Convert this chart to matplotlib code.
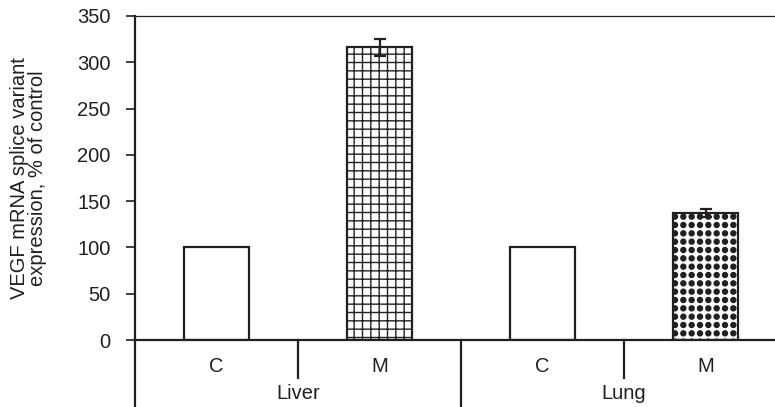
import numpy as np
import matplotlib
matplotlib.use("Agg")
import matplotlib.pyplot as plt
import matplotlib.hatch as mhatch
from matplotlib.path import Path

# data
groups = ["Liver", "Lung"]
conditions = ["C", "M"]
values = [100, 316, 100, 137]
errors = [0, 9, 0, 4]
hatches = ["", "++", "", ".."]


# square grid of filled dots (replaces the staggered '.' hatch)
class GridDots(mhatch.Shapes):
    filled = True
    size = 0.3
    shape_vertices = Path.unit_circle().vertices
    shape_codes = Path.unit_circle().codes

    def __init__(self, hatch, density):
        self.num_rows = hatch.count('.') * density
        self.num_shapes = (self.num_rows + 1) ** 2 if self.num_rows else 0
        self.num_vertices = self.num_shapes * len(self.shape_vertices)

    def set_vertices_and_codes(self, vertices, codes):
        offset = 1.0 / self.num_rows
        sv = self.shape_vertices * offset * self.size
        vparts, cparts = [], []
        for row in range(self.num_rows + 1):
            for col in range(self.num_rows + 1):
                vparts.append(sv + [col * offset, row * offset])
                cparts.append(self.shape_codes)
        np.concatenate(vparts, out=vertices)
        np.concatenate(cparts, out=codes)


mhatch._hatch_types = [GridDots if t is mhatch.SmallFilledCircles else t
                       for t in mhatch._hatch_types]

plt.rcParams['font.family'] = ['Liberation Sans', 'DejaVu Sans']
plt.rcParams['hatch.linewidth'] = 1.0
ink = '#231f20'
plt.rcParams['hatch.color'] = ink
fs = 14.5

fig = plt.figure(figsize=(7.75, 4.07), dpi=100)
ax = fig.add_axes([0.1742, 0.1646, 0.8413, 0.7961])

x = np.arange(len(values))
ax.bar(x, values, width=0.4, color='white', edgecolor=ink, linewidth=1.6,
       hatch=hatches, zorder=2)
for xi, v, e in zip(x, values, errors):
    if e:
        ax.errorbar(xi, v, yerr=e, fmt='none', ecolor=ink, elinewidth=1.6,
                    capsize=4, capthick=1.6, zorder=3)

ax.set_xlim(-0.5, len(values) - 0.5)
ax.set_ylim(0, 350)
ax.set_yticks(range(0, 351, 50))
ax.tick_params(axis='y', direction='out', length=6.5, width=1.2, labelsize=fs,
               colors=ink, pad=11)
ax.set_xticks([])

ax.spines['right'].set_visible(False)
ax.spines['left'].set_linewidth(1.6)
ax.spines['bottom'].set_linewidth(1.6)
ax.spines['top'].set_linewidth(0.9)
for s in ax.spines.values():
    s.set_color(ink)

ax.set_ylabel("VEGF mRNA splice variant\nexpression, % of control",
              fontsize=fs, color=ink, linespacing=0.95)
ax.yaxis.set_label_coords(-0.135, 0.5)

# two-level category axis below the bars
trans = ax.get_xaxis_transform()
for i, xi in enumerate(x):
    ax.text(xi, -0.082, conditions[i % 2], transform=trans, ha='center',
            va='center', fontsize=fs, color=ink)
for g, name in enumerate(groups):
    ax.text(2 * g + 0.5, -0.166, name, transform=trans, ha='center',
            va='center', fontsize=fs, color=ink)
    # short divider between C and M
    ax.plot([2 * g + 0.5, 2 * g + 0.5], [0, -0.117], transform=trans,
            color=ink, lw=1.6, clip_on=False)
    # long divider at group edges
    ax.plot([2 * g - 0.5, 2 * g - 0.5], [0, -0.25], transform=trans,
            color=ink, lw=1.6, clip_on=False)

fig.savefig("out.png", dpi=100)
